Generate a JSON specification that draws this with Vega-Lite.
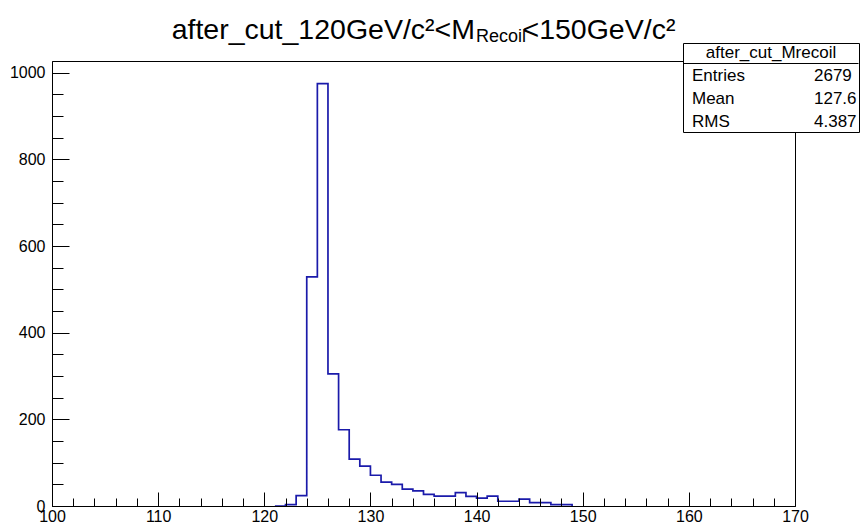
{
  "$schema": "https://vega.github.io/schema/vega-lite/v6.json",
  "width": 743,
  "height": 445,
  "autosize": {"type": "none"},
  "padding": {"left": 52, "top": 61, "right": 65, "bottom": 18},
  "background": "white",
  "config": {"view": {"stroke": "black", "strokeWidth": 1}, "font": "Liberation Sans"},
  "title": {
    "text": "after_cut_120GeV/c²<M\u00a0\u00a0\u00a0\u00a0\u00a0\u00a0<150GeV/c²",
    "subtitle": "\u200b\u00a0\u00a0\u00a0\u00a0\u00a0\u00a0\u00a0\u00a0\u00a0\u00a0\u00a0\u00a0\u00a0\u00a0\u00a0\u00a0\u00a0\u00a0\u00a0\u00a0\u00a0\u00a0\u00a0\u00a0\u00a0\u00a0\u00a0\u00a0\u00a0\u00a0\u00a0Recoil",
    "fontSize": 28.5,
    "fontWeight": "normal",
    "font": "Liberation Sans",
    "color": "black",
    "subtitleFontSize": 18,
    "subtitleFont": "Liberation Sans",
    "subtitleColor": "black",
    "subtitlePadding": -17,
    "anchor": "middle",
    "offset": -3
  },
  "layer": [
    {
      "data": {"values": [
        {"mass": 121, "count": 0},
        {"mass": 122, "count": 3},
        {"mass": 123, "count": 24},
        {"mass": 124, "count": 529},
        {"mass": 125, "count": 975},
        {"mass": 126, "count": 305},
        {"mass": 127, "count": 176},
        {"mass": 128, "count": 108},
        {"mass": 129, "count": 92},
        {"mass": 130, "count": 71},
        {"mass": 131, "count": 55},
        {"mass": 132, "count": 50},
        {"mass": 133, "count": 39},
        {"mass": 134, "count": 35},
        {"mass": 135, "count": 27},
        {"mass": 136, "count": 23},
        {"mass": 137, "count": 23},
        {"mass": 138, "count": 31},
        {"mass": 139, "count": 22},
        {"mass": 140, "count": 18},
        {"mass": 141, "count": 23},
        {"mass": 142, "count": 11},
        {"mass": 143, "count": 11},
        {"mass": 144, "count": 16},
        {"mass": 145, "count": 8},
        {"mass": 146, "count": 8},
        {"mass": 147, "count": 3},
        {"mass": 148, "count": 3},
        {"mass": 149, "count": 0}
      ]},
      "mark": {"type": "line", "interpolate": "step-after", "color": "#1a1aaa", "strokeWidth": 1.7},
      "encoding": {
        "x": {
          "field": "mass", "type": "quantitative",
          "scale": {"domain": [100, 170], "nice": false, "zero": false},
          "axis": {
            "title": null, "grid": false,
            "values": [100,102,104,106,108,110,112,114,116,118,120,122,124,126,128,130,132,134,136,138,140,142,144,146,148,150,152,154,156,158,160,162,164,166,168,170],
            "format": "d",
            "labelExpr": "datum.value % 10 === 0 ? datum.label : ''",
            "tickSize": {"condition": {"test": "datum.value % 10 === 0", "value": -14}, "value": -8},
            "tickColor": "black", "tickWidth": 1,
            "domainColor": "black",
            "labelFontSize": 16, "labelColor": "black", "labelFont": "Liberation Sans",
            "labelPadding": 16, "labelFlush": false, "labelOverlap": false, "zindex": 1
          }
        },
        "y": {
          "field": "count", "type": "quantitative",
          "scale": {"domain": [0, 1027], "nice": false},
          "axis": {
            "title": null, "grid": false,
            "values": [0,50,100,150,200,250,300,350,400,450,500,550,600,650,700,750,800,850,900,950,1000],
            "format": "d",
            "labelExpr": "datum.value % 200 === 0 ? datum.label : ''",
            "tickSize": {"condition": {"test": "datum.value % 200 === 0", "value": -17}, "value": -11},
            "tickColor": "black", "tickWidth": 1,
            "domainColor": "black",
            "labelFontSize": 16, "labelColor": "black", "labelFont": "Liberation Sans",
            "labelPadding": 24, "labelFlush": false, "labelOverlap": false, "zindex": 1
          }
        }
      }
    },
    {
      "data": {"values": [
        {"hist": "after_cut_Mrecoil", "stat": "Entries", "value": "2679"},
        {"hist": "after_cut_Mrecoil", "stat": "Mean", "value": "127.6"},
        {"hist": "after_cut_Mrecoil", "stat": "RMS", "value": "4.387"}
      ]},
      "transform": [{"fold": ["stat", "value"], "as": ["kind", "item"]}],
      "mark": {"type": "point", "opacity": 0},
      "encoding": {
        "color": {
          "field": "item", "type": "nominal",
          "sort": ["Entries", "Mean", "RMS", "2679", "127.6", "4.387"],
          "scale": {"range": ["black"]},
          "legend": {
            "title": "after_cut_Mrecoil", "titleAnchor": "middle",
            "titleFontSize": 17, "titleFontWeight": "normal", "titleFont": "Liberation Sans", "titleColor": "black",
            "titlePadding": 5,
            "orient": "none", "legendX": 631, "legendY": -18,
            "columns": 2, "columnPadding": 62, "rowPadding": 5, "padding": 2,
            "strokeColor": "black", "fillColor": "white",
            "symbolSize": 0, "symbolOpacity": 0,
            "labelOffset": -10, "labelFontSize": 17, "labelColor": "black", "labelFont": "Liberation Sans", "labelLimit": 300,
            "zindex": 1
          }
        },
        "shape": {
          "field": "hist", "type": "nominal",
          "scale": {"range": ["M-8.75,0H8.75"]},
          "legend": {
            "title": null,
            "orient": "none", "legendX": 708.5, "legendY": -8, "padding": 0,
            "symbolSize": 400, "symbolStrokeColor": "black", "symbolStrokeWidth": 1,
            "symbolFillColor": "transparent", "symbolOpacity": 1,
            "labelExpr": "''", "labelOffset": 0,
            "zindex": 2
          }
        }
      }
    }
  ]
}
